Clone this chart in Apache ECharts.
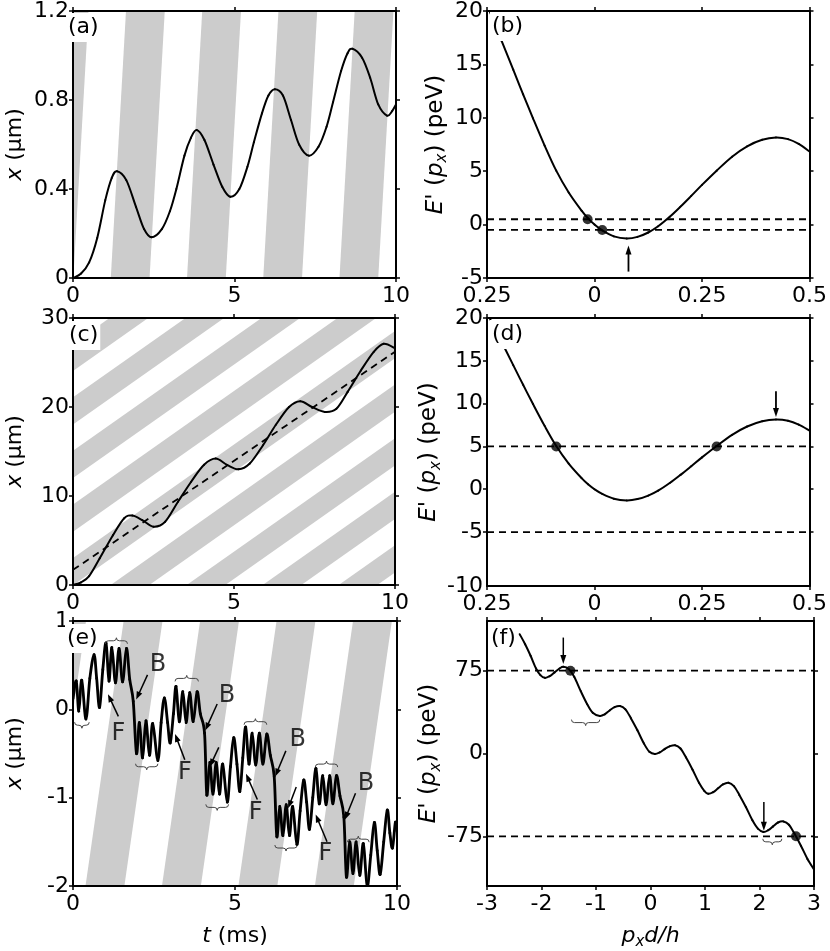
<!DOCTYPE html>
<html>
<head>
<meta charset="utf-8">
<script src="https://cdn.jsdelivr.net/npm/echarts@6/dist/echarts.min.js"></script>
<style>
  html, body { margin: 0; padding: 0; background: #fff; }
  #chart { width: 830px; height: 951px; }
</style>
</head>
<body>
<div id="chart"></div>
<script>
// lattice bands (grey stripes): start time at x = 0, width in ms, speed in um/ms
const stripeStarts = [-12.99, -10.63, -8.27, -5.91, -3.55, -1.19, 1.17, 3.53, 5.89, 8.25];
const stripeWidth = 1.2;
const stripeSpeed = 2.55;

// (a) trajectory
const aT = [0, 0.25, 0.5, 0.75, 1.0, 1.2, 1.36, 1.65, 1.95, 2.2, 2.43, 2.75, 3.0, 3.2, 3.45, 3.65, 3.83, 4.07, 4.35, 4.62, 4.87, 5.15, 5.4, 5.6, 5.85, 6.05, 6.25, 6.5, 6.75, 7.0, 7.3, 7.6, 7.85, 8.05, 8.3, 8.5, 8.65, 8.95, 9.2, 9.45, 9.72, 9.88, 10];
const aX = [0, 0.02, 0.07, 0.18, 0.35, 0.45, 0.48, 0.44, 0.32, 0.22, 0.183, 0.22, 0.3, 0.4, 0.55, 0.63, 0.665, 0.62, 0.51, 0.41, 0.365, 0.4, 0.5, 0.61, 0.74, 0.82, 0.848, 0.82, 0.71, 0.6, 0.55, 0.59, 0.68, 0.79, 0.93, 1.01, 1.03, 0.99, 0.9, 0.78, 0.73, 0.75, 0.78];

// (c) trajectory and linear fit
const cT = [0, 0.25, 0.5, 0.83, 1.24, 1.59, 1.84, 2.15, 2.5, 2.86, 3.26, 3.67, 4.07, 4.43, 4.78, 5.14, 5.49, 5.9, 6.3, 6.71, 7.06, 7.42, 7.82, 8.18, 8.53, 8.94, 9.34, 9.65, 10];
const cX = [0, 0.3, 1.0, 3.0, 5.6, 7.5, 7.8, 7.3, 6.55, 7.1, 9.35, 11.6, 13.5, 14.2, 13.5, 13.0, 13.65, 15.7, 18.0, 20.0, 20.65, 20.0, 19.45, 19.8, 21.7, 24.1, 26.2, 27.1, 26.6];
const cFitT = [0, 10];
const cFitX = [1.7, 26.2];

// (e) trajectory
const eT = [0, 0.1, 0.18, 0.27, 0.4, 0.52, 0.65, 0.73, 0.82, 0.92, 1.02, 1.11, 1.2, 1.31, 1.42, 1.53, 1.65, 1.75, 1.86, 1.96,
  2.05, 2.15, 2.25, 2.36, 2.46, 2.62, 2.72, 2.82, 2.92, 3.0, 3.1, 3.18, 3.28, 3.39, 3.49, 3.6, 3.71, 3.83, 3.93, 4.06, 4.13,
  4.22, 4.32, 4.42, 4.52, 4.62, 4.76, 4.86, 4.96, 5.06, 5.15, 5.24, 5.33, 5.43, 5.53, 5.64, 5.75, 5.86, 5.98, 6.09, 6.21, 6.29,
  6.38, 6.48, 6.58, 6.68, 6.78, 6.91, 7.01, 7.12, 7.21, 7.3, 7.4, 7.5, 7.6, 7.71, 7.81, 7.92, 8.02, 8.13, 8.24, 8.36, 8.44,
  8.54, 8.64, 8.74, 8.85, 8.96, 9.08, 9.19, 9.3, 9.39, 9.48, 9.59, 9.7, 9.78, 9.86, 9.95, 10];
const eX = [0.12, 0.32, -0.02, 0.33, -0.11, 0.35, 0.62, 0.35, 0.02, 0.45, 0.75, 0.32, 0.7, 0.3, 0.69, 0.31, 0.69, 0.34, 0.09, -0.5,
  -0.15, -0.55, -0.13, -0.52, -0.16, -0.58, -0.15, 0.13, -0.15, -0.38, -0.05, 0.26, -0.14, 0.2, -0.15, 0.19, -0.14, 0.2, -0.05, -0.27, -0.97,
  -0.6, -0.96, -0.6, -0.96, -0.62, -1.05, -0.65, -0.32, -0.62, -0.93, -0.55, -0.2, -0.62, -0.27, -0.63, -0.27, -0.62, -0.28, -0.52, -0.76, -1.44,
  -1.1, -1.43, -1.08, -1.43, -1.1, -1.53, -1.15, -0.8, -1.05, -1.36, -1.0, -0.67, -1.07, -0.75, -1.08, -0.75, -1.07, -0.75, -0.98, -1.22, -1.9,
  -1.5, -1.86, -1.5, -1.88, -1.52, -2.0, -1.65, -1.28, -1.6, -1.87, -1.5, -1.14, -1.4, -1.57, -1.28, -1.38];
const eLabels = [['B', 2.62, 0.5], ['F', 1.4, -0.28], ['B', 4.75, 0.15], ['F', 3.45, -0.72],
  ['B', 6.94, -0.35], ['F', 5.64, -1.17], ['B', 9.04, -0.84], ['F', 7.79, -1.64]];
const eArrows = [[2.3, 0.39, 1.95, 0.11], [1.4, -0.08, 1.08, 0.17], [4.45, 0.06, 4.08, -0.24], [3.45, -0.57, 3.15, -0.28],
  [4.5, -0.43, 4.22, -0.65], [6.57, -0.47, 6.24, -0.76], [5.69, -1.02, 5.34, -0.73], [6.89, -0.88, 6.64, -1.12],
  [8.72, -0.95, 8.39, -1.25], [7.84, -1.5, 7.49, -1.19]];
// braces: from, to, level, direction (1 = tip up, -1 = tip down)
const eBraces = [[0.05, 0.5, -0.18, -1], [1.0, 1.68, 0.776, 1], [1.93, 2.62, -0.65, -1], [3.15, 3.87, 0.35, 1],
  [4.1, 4.8, -1.11, -1], [5.28, 5.98, -0.14, 1], [6.23, 6.92, -1.57, -1], [7.48, 8.17, -0.62, 1], [8.47, 9.14, -1.47, 1]];

// (b), (d) dispersion E'(p)
const bdP = [-0.243, -0.216, -0.189, -0.166, -0.143, -0.116, -0.089, -0.06, -0.03, -0.015, 0, 0.018, 0.045, 0.075, 0.1, 0.125, 0.148, 0.175, 0.2, 0.225, 0.25, 0.284, 0.32, 0.355, 0.39, 0.422, 0.45, 0.475, 0.5];
const bdE = [19.9, 17.2, 14.5, 12.2, 9.95, 7.4, 5.05, 3.0, 1.3, 0.58, 0.0, -0.55, -1.1, -1.3, -1.15, -0.74, -0.16, 0.73, 1.68, 2.69, 3.72, 5.05, 6.36, 7.33, 7.94, 8.15, 8.0, 7.55, 6.85];
const bdTickLabels = ['0.25', '0', '0.25', '0.5'];
const bLevels = [0.5, -0.5];
const bDots = [[-0.016, 0.5], [0.018, -0.5]];
const bArrows = [[0.079, -4.4, 0.079, -1.95]];
const dLevels = [5, -5];
const dDots = [[-0.089, 5], [0.284, 5]];
const dArrows = [[0.422, 11.45, 0.422, 8.44]];
const dTicks = [-11.3, -5, 0, 5, 10, 15, 20];

// (f) tilted dispersion
const fP = [-2.4, -2.3, -2.2, -2.1, -2.02, -1.94, -1.85, -1.76, -1.67, -1.6, -1.5, -1.4, -1.28, -1.16, -1.06, -0.93,
  -0.84, -0.75, -0.66, -0.56, -0.46, -0.36, -0.24, -0.12, -0.02, 0.08, 0.17, 0.26, 0.35, 0.45, 0.55, 0.65, 0.77, 0.89, 0.99, 1.06,
  1.15, 1.24, 1.33, 1.43, 1.53, 1.63, 1.75, 1.87, 1.97, 2.07, 2.16, 2.25, 2.34, 2.44, 2.54, 2.64, 2.76, 2.88, 3.0];
const fE = [108, 99, 88.5, 77, 71, 68.5, 70, 73.5, 77, 78.5, 76.5, 69.5, 56.5, 44.5, 37, 34,
  35.5, 39, 42, 43, 40, 32, 21, 9, 1.5, -0.5, 1, 4, 6.5, 7.5, 4.5, -3.5, -14.5, -26.5, -34, -36.5,
  -35, -31.5, -28, -26.5, -29.5, -37.5, -48.5, -60.5, -68, -71, -69.5, -66, -62.5, -61.5, -64.5, -72.5, -83.5, -95.5, -105];
const fLevels = [75, -75];
const fDots = [[-1.47, 75], [2.67, -75]];
const fArrows = [[-1.6, 105, -1.6, 81], [2.08, -44, 2.08, -70]];
const fBraces = [[-1.45, -0.93, 28, -1], [2.06, 2.41, -80, -1]];

const FONT = 'DejaVu Sans';
const chart = echarts.init(document.getElementById('chart'));

const grids = [
  { left: 65, top: 10, width: 331, height: 268 },
  { left: 487, top: 10, width: 327, height: 268 },
  { left: 66, top: 318, width: 329, height: 267 },
  { left: 487, top: 318, width: 327, height: 268 },
  { left: 64, top: 621, width: 333, height: 268 },
  { left: 487, top: 621, width: 327, height: 268 }
];

const lineCol = { color: '#000', width: 2 };
const tickStyle = { show: true, inside: false, length: 4, lineStyle: { color: '#000', width: 1.5 } };
const labelStyle = { color: '#000', fontFamily: FONT, fontSize: 22 };
const rich = {
  i: { fontFamily: FONT, fontSize: 22, fontStyle: 'italic', lineHeight: 28 },
  s: { fontFamily: FONT, fontSize: 15, fontStyle: 'italic', lineHeight: 15, verticalAlign: 'bottom' }
};
const nameStyle = { color: '#000', fontFamily: FONT, fontSize: 22, lineHeight: 28, rich: rich };

const xAxes = [];
const yAxes = [];
function addAxes(g, xc, yc) {
  const xb = {
    gridIndex: g, type: 'value', min: xc.min, max: xc.max, interval: xc.interval, z: 10,
    axisLine: { onZero: false, lineStyle: lineCol }, axisTick: tickStyle, splitLine: { show: false }
  };
  xAxes.push(Object.assign({}, xb, {
    position: 'bottom',
    axisLabel: Object.assign({ margin: 7, formatter: xc.formatter }, labelStyle),
    name: xc.name || '', nameLocation: 'middle', nameGap: 36, nameTextStyle: nameStyle
  }));
  xAxes.push(Object.assign({}, xb, { position: 'top', axisLabel: { show: false } }));
  const yb = {
    gridIndex: g, type: 'value', min: yc.min, max: yc.max, interval: yc.interval, z: 10,
    axisLine: { onZero: false, lineStyle: lineCol }, splitLine: { show: false },
    axisTick: Object.assign({}, tickStyle, yc.ticks ? { customValues: yc.ticks } : {})
  };
  yAxes.push(Object.assign({}, yb, {
    position: 'left',
    axisLabel: Object.assign({ margin: 4, formatter: yc.formatter },
      labelStyle, yc.labels ? { customValues: yc.labels } : {}),
    name: yc.name, nameLocation: 'middle', nameGap: yc.nameGap, nameTextStyle: Object.assign({}, nameStyle, yc.nameStyle || {})
  }));
  yAxes.push(Object.assign({}, yb, { position: 'right', axisLabel: { show: false } }));
}

const xName = '{i|x} (µm)';
const eName = "{i|E}' ({i|p}{s|x}) (peV)";
const eNameStyle = { fontSize: 23, rich: {
  i: { fontFamily: FONT, fontSize: 23, fontStyle: 'italic', lineHeight: 28 },
  s: { fontFamily: FONT, fontSize: 15, fontStyle: 'italic', lineHeight: 15, verticalAlign: 'bottom' }
} };
const bdX = { min: -0.25, max: 0.5, interval: 0.25, formatter: (v, i) => bdTickLabels[i] };

addAxes(0, { min: 0, max: 10, interval: 5 }, { min: 0, max: 1.2, interval: 0.4, name: xName, nameGap: 44 });
addAxes(1, bdX, { min: -5, max: 20, interval: 5, name: eName, nameGap: 37, nameStyle: eNameStyle });
addAxes(2, { min: 0, max: 10, interval: 5 }, { min: 0, max: 30, interval: 10, name: xName, nameGap: 44 });
addAxes(3, bdX, {
  min: -11.3, max: 20, ticks: dTicks.slice(1), labels: dTicks,
  formatter: v => (v < -10.5 ? '-10' : String(v)), name: eName, nameGap: 37, nameStyle: eNameStyle
});
addAxes(4, { min: 0, max: 10, interval: 5, name: '{i|t} (ms)' }, { min: -2, max: 1, interval: 1, name: xName, nameGap: 44 });
addAxes(5, { min: -3, max: 3, interval: 1, name: '{i|p}{s|x}{i|d/h}' },
  { min: -120, max: 120, ticks: fLevels.concat([0]), labels: [-75, 0, 75], name: eName, nameGap: 37, nameStyle: eNameStyle });

function onGrid(g, s) {
  return Object.assign({ xAxisIndex: 2 * g, yAxisIndex: 2 * g, animation: false, silent: true }, s);
}

function stripes(g, yMin, yMax) {
  return onGrid(g, {
    type: 'custom', clip: true, z: 1,
    data: stripeStarts.map(t => [t, yMin]),
    renderItem(params, api) {
      const t0 = api.value(0);
      const pts = [
        [t0 + yMin / stripeSpeed, yMin], [t0 + stripeWidth + yMin / stripeSpeed, yMin],
        [t0 + stripeWidth + yMax / stripeSpeed, yMax], [t0 + yMax / stripeSpeed, yMax]
      ].map(p => api.coord(p));
      return { type: 'polygon', shape: { points: pts }, style: { fill: '#cccccc' } };
    }
  });
}

// smooth curve: one Catmull-Rom piece per pair of read points, placed by the axes
function curve(g, xs, ys, width) {
  const pts = xs.map((x, i) => [x, ys[i]]);
  const n = pts.length;
  return onGrid(g, {
    type: 'custom', clip: true, z: 3, data: pts,
    renderItem(params, api) {
      const i = params.dataIndex;
      if (i >= n - 1) return null;
      const P = k => api.coord(pts[Math.max(0, Math.min(n - 1, k))]);
      const p0 = P(i - 1), p1 = P(i), p2 = P(i + 1), p3 = P(i + 2);
      return {
        type: 'bezierCurve',
        shape: {
          x1: p1[0], y1: p1[1], x2: p2[0], y2: p2[1],
          cpx1: p1[0] + (p2[0] - p0[0]) / 6, cpy1: p1[1] + (p2[1] - p0[1]) / 6,
          cpx2: p2[0] - (p3[0] - p1[0]) / 6, cpy2: p2[1] - (p3[1] - p1[1]) / 6
        },
        style: { stroke: '#000', lineWidth: width, fill: null, lineCap: 'round' }
      };
    }
  });
}

function dashed(g, x0, x1, y0, y1) {
  return onGrid(g, {
    type: 'line', data: [[x0, y0], [x1, y1]], showSymbol: false, symbol: 'none', z: 3,
    lineStyle: { color: '#000', width: 1.8, type: [7, 5] }
  });
}

function dots(g, list) {
  return onGrid(g, { type: 'scatter', data: list, symbolSize: 10, z: 5, itemStyle: { color: '#000' } });
}

function arrows(g, list, len, half, lw) {
  return onGrid(g, {
    type: 'custom', z: 6, data: list,
    renderItem(params, api) {
      const p1 = api.coord([api.value(0), api.value(1)]);
      const p2 = api.coord([api.value(2), api.value(3)]);
      const dx = p2[0] - p1[0], dy = p2[1] - p1[1];
      const d = Math.hypot(dx, dy), ux = dx / d, uy = dy / d;
      const bx = p2[0] - ux * len, by = p2[1] - uy * len;
      return {
        type: 'group', children: [
          { type: 'line', shape: { x1: p1[0], y1: p1[1], x2: bx + ux, y2: by + uy }, style: { stroke: '#000', lineWidth: lw } },
          { type: 'polygon', shape: { points: [p2, [bx - uy * half, by + ux * half], [bx + uy * half, by - ux * half]] }, style: { fill: '#000' } }
        ]
      };
    }
  });
}

function braces(g, list) {
  return onGrid(g, {
    type: 'custom', z: 6, data: list,
    renderItem(params, api) {
      const a = api.coord([api.value(0), api.value(2)]);
      const b = api.coord([api.value(1), api.value(2)]);
      const s = api.value(3), y = a[1], r = 3, m = (a[0] + b[0]) / 2;
      const path = 'M' + a[0] + ' ' + (y + s * r) + ' Q' + a[0] + ' ' + y + ' ' + (a[0] + r) + ' ' + y +
        ' L' + (m - r) + ' ' + y + ' Q' + m + ' ' + y + ' ' + m + ' ' + (y - s * r) +
        ' Q' + m + ' ' + y + ' ' + (m + r) + ' ' + y + ' L' + (b[0] - r) + ' ' + y +
        ' Q' + b[0] + ' ' + y + ' ' + b[0] + ' ' + (y + s * r);
      return { type: 'path', shape: { pathData: path }, style: { stroke: '#444', lineWidth: 1, fill: null } };
    }
  });
}

function levels(g, list, x0, x1) {
  return list.map(y => dashed(g, x0, x1, y, y));
}

const series = [
  stripes(0, 0, 1.2), curve(0, aT, aX, 2),
  curve(1, bdP, bdE, 2), ...levels(1, bLevels, -0.25, 0.5), dots(1, bDots), arrows(1, bArrows, 9, 3, 1.8),
  stripes(2, 0, 30), curve(2, cT, cX, 2), dashed(2, cFitT[0], cFitT[1], cFitX[0], cFitX[1]),
  curve(3, bdP, bdE, 2), ...levels(3, dLevels, -0.25, 0.5), dots(3, dDots), arrows(3, dArrows, 9, 3, 1.8),
  stripes(4, -2, 1), curve(4, eT, eX, 2.8), arrows(4, eArrows, 8, 3, 1.5), braces(4, eBraces),
  onGrid(4, {
    type: 'scatter', z: 6, symbolSize: 1, itemStyle: { color: 'rgba(0,0,0,0)' },
    data: eLabels.map(d => ({ name: d[0], value: [d[1], d[2]] })),
    label: { show: true, position: 'inside', formatter: '{b}', color: '#000', fontFamily: FONT, fontSize: 24 }
  }),
  curve(5, fP, fE, 2), ...levels(5, fLevels, -3, 3), dots(5, fDots), arrows(5, fArrows, 9, 3, 1.5), braces(5, fBraces)
];

const panelTag = (text, left, top) => ({
  text: text, left: left, top: top, z: 20, padding: [1, 2, 2, 2], backgroundColor: '#fff',
  textStyle: { color: '#000', fontFamily: FONT, fontSize: 22, fontWeight: 'normal', lineHeight: 26 }
});

chart.setOption({
  animation: false,
  backgroundColor: '#fff',
  title: [
    panelTag('(a)', 66, 13), panelTag('(b)', 490, 12), panelTag('(c)', 67, 321),
    panelTag('(d)', 490, 320), panelTag('(e)', 65, 624), panelTag('(f)', 489, 624)
  ],
  grid: grids,
  xAxis: xAxes,
  yAxis: yAxes,
  series: series
});
</script>
</body>
</html>
